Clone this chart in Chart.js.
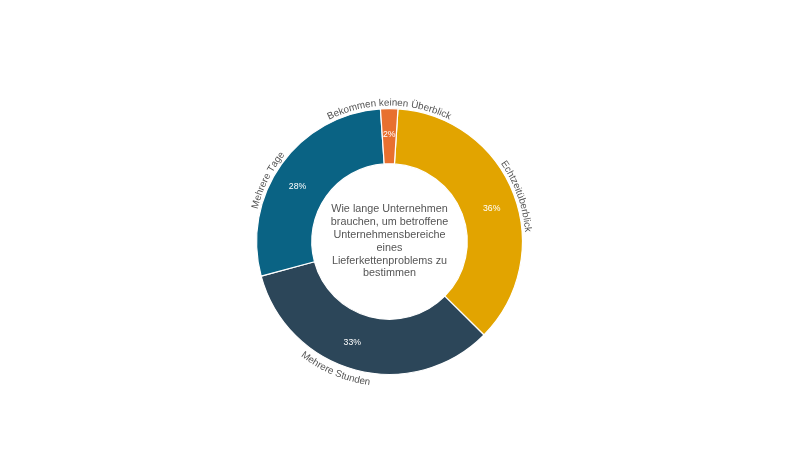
<!DOCTYPE html>
<html lang="de">
<head>
<meta charset="UTF-8">
<title>Lieferkettenprobleme</title>
<script src="https://cdn.jsdelivr.net/npm/chart.js"></script>
<style>
  html, body { margin: 0; padding: 0; background: #fff; }
  #wrap { width: 800px; height: 450px; position: relative; }
</style>
</head>
<body>
<div id="wrap"><canvas id="myChart"></canvas></div>
<script>
  const labels = ['Echtzeitüberblick', 'Mehrere Stunden', 'Mehrere Tage', 'Bekommen keinen Überblick'];
  const values = [36.4, 33.4, 28.1, 2.1];
  const colors = ['#e2a400', '#2c4659', '#0a6384', '#e8702f'];
  const centerLines = ['Wie lange Unternehmen', 'brauchen, um betroffene', 'Unternehmensbereiche', 'eines', 'Lieferkettenproblems zu', 'bestimmen'];

  const FONT = '"Liberation Sans", Arial, sans-serif';
  // small angular nudges (degrees) so the labels sit where the original puts them
  const pctNudge = [3, 5.5, -4.5, 0];
  const nameNudge = [1.3, 8, -9, 0];
  const deg = Math.PI / 180;

  // text along the outer edge of each slice
  function curvedText(ctx, text, cx, cy, r, mid, flip) {
    const total = ctx.measureText(text).width;
    let acc = 0;
    for (const ch of text) {
      const cw = ctx.measureText(ch).width;
      let a;
      ctx.save();
      if (!flip) {
        a = mid - total / (2 * r) + (acc + cw / 2) / r;
        ctx.translate(cx + r * Math.cos(a), cy + r * Math.sin(a));
        ctx.rotate(a + Math.PI / 2);
      } else {
        a = mid + total / (2 * r) - (acc + cw / 2) / r;
        ctx.translate(cx + r * Math.cos(a), cy + r * Math.sin(a));
        ctx.rotate(a - Math.PI / 2);
      }
      ctx.fillText(ch, 0, 0);
      ctx.restore();
      acc += cw;
    }
  }

  const labelPlugin = {
    id: 'labelPlugin',
    afterDatasetsDraw(chart) {
      const ctx = chart.ctx;
      const meta = chart.getDatasetMeta(0);
      const sum = values.reduce((a, b) => a + b, 0);
      ctx.save();
      meta.data.forEach((arc, i) => {
        const p = arc.getProps(['x', 'y', 'startAngle', 'endAngle', 'innerRadius', 'outerRadius'], true);
        const mid = (p.startAngle + p.endAngle) / 2;
        // percent inside the ring
        const rm = (p.innerRadius + p.outerRadius) / 2 + 2;
        const ma = mid + pctNudge[i] * deg;
        ctx.fillStyle = '#ffffff';
        ctx.font = '8.7px ' + FONT;
        ctx.textAlign = 'center';
        ctx.textBaseline = 'middle';
        ctx.fillText(Math.round(values[i] / sum * 100) + '%', p.x + rm * Math.cos(ma), p.y + rm * Math.sin(ma));
        // category name around the outside
        ctx.fillStyle = '#555555';
        ctx.font = '9.8px ' + FONT;
        ctx.textBaseline = 'alphabetic';
        const la = mid + nameNudge[i] * deg;
        const flip = Math.sin(la) > 0.5;
        curvedText(ctx, labels[i], p.x, p.y, flip ? p.outerRadius + 12 : p.outerRadius + 3, la, flip);
      });
      // center title
      const c = meta.data[0];
      ctx.fillStyle = '#555555';
      ctx.font = '10.8px ' + FONT;
      ctx.textAlign = 'center';
      ctx.textBaseline = 'middle';
      const lh = 12.8;
      const y0 = c.y - (centerLines.length - 1) * lh / 2;
      centerLines.forEach((t, k) => ctx.fillText(t, c.x, y0 + k * lh));
      ctx.restore();
    }
  };

  const ctx = document.getElementById('myChart');
  const myChart = new Chart(ctx, {
    type: 'doughnut',
    data: {
      labels: labels,
      datasets: [{
        data: values,
        backgroundColor: colors,
        borderColor: '#ffffff',
        borderWidth: 1.2
      }]
    },
    options: {
      responsive: true,
      maintainAspectRatio: false,
      animation: false,
      devicePixelRatio: 1,
      cutout: '58.5%',
      rotation: 3.65,
      layout: { padding: { top: 108, bottom: 75, left: 0, right: 21 } },
      plugins: {
        legend: { display: false },
        tooltip: { enabled: false }
      }
    },
    plugins: [labelPlugin]
  });
</script>
</body>
</html>
